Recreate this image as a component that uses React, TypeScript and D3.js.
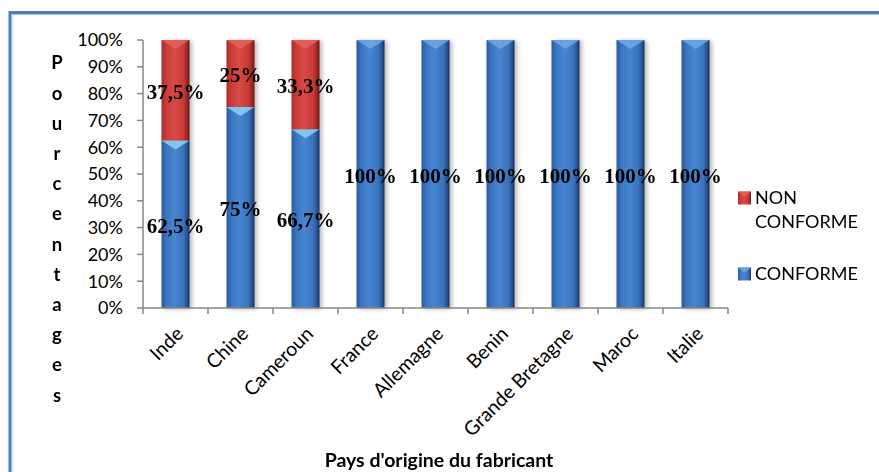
import React from 'react';
import * as d3 from 'd3';

// Countries of origin and the share of compliant / non-compliant products (%)
const categories = ['Inde', 'Chine', 'Cameroun', 'France', 'Allemagne', 'Benin', 'Grande Bretagne', 'Maroc', 'Italie'];
const conforme = [62.5, 75, 66.7, 100, 100, 100, 100, 100, 100];
const nonConforme = [37.5, 25, 33.3, 0, 0, 0, 0, 0, 0];
const yTicks = [0, 10, 20, 30, 40, 50, 60, 70, 80, 90, 100];
const seriesNames = ['CONFORME', 'NON CONFORME'];
const yTitle = 'Pourcentages';
const xTitle = "Pays d'origine du fabricant";

const W = 879;
const H = 472;
const plot = { left: 143, right: 728, top: 40, bottom: 308 };
const SANS = 'Lato, "Open Sans", sans-serif';
const SERIF = '"Liberation Serif", "Times New Roman", serif';

const fmt = (v: number) => `${String(v).replace('.', ',')}%`;

export default function App() {
  const x = d3.scaleBand<string>().domain(categories).range([plot.left, plot.right]).paddingInner(0).paddingOuter(0);
  const y = d3.scaleLinear().domain([0, 100]).range([plot.bottom, plot.top]);
  const barW = 28;

  const rows = categories.map((c, i) => ({ cat: c, CONFORME: conforme[i], 'NON CONFORME': nonConforme[i] }));
  const stacked = d3.stack<any>().keys(seriesNames)(rows);

  const fills: Record<string, { grad: string; top: string }> = {
    CONFORME: { grad: 'url(#gBlue)', top: '#6fa8e6' },
    'NON CONFORME': { grad: 'url(#gRed)', top: '#e4625d' },
  };
  // bevel colour when a blue segment sits under a red one
  const innerBlueTop = '#8fd0f7';

  return (
    <svg width={W} height={H} style={{ position: 'absolute', left: 0, top: 0, background: '#fff' }}>
      <defs>
        <linearGradient id="gBlue" x1="0" x2="1" y1="0" y2="0">
          <stop offset="0%" stopColor="#2b5c9e" />
          <stop offset="18%" stopColor="#3a75c1" />
          <stop offset="45%" stopColor="#4886d2" />
          <stop offset="78%" stopColor="#3a72bb" />
          <stop offset="92%" stopColor="#27528c" />
          <stop offset="100%" stopColor="#132d52" />
        </linearGradient>
        <linearGradient id="gRed" x1="0" x2="1" y1="0" y2="0">
          <stop offset="0%" stopColor="#ad2c28" />
          <stop offset="18%" stopColor="#cb3c37" />
          <stop offset="45%" stopColor="#d84a45" />
          <stop offset="78%" stopColor="#c83a35" />
          <stop offset="92%" stopColor="#9b2622" />
          <stop offset="100%" stopColor="#5c1311" />
        </linearGradient>
        <filter id="shadow" x="-30%" y="-5%" width="170%" height="115%">
          <feDropShadow dx="2.5" dy="1" stdDeviation="2" floodColor="#000" floodOpacity="0.28" />
        </filter>
      </defs>

      {/* chart frame */}
      <rect x={10} y={12.5} width={W + 20} height={H + 20} fill="none" stroke="#4a7ebb" strokeWidth={3} />
      <rect x={12} y={14.5} width={W + 20} height={H + 20} fill="none" stroke="#a9c2e2" strokeWidth={1} />

      {/* y axis */}
      <line x1={plot.left} x2={plot.left} y1={plot.top} y2={plot.bottom} stroke="#868686" strokeWidth={1.5} />
      {yTicks.map((t) => (
        <g key={t}>
          <line x1={plot.left - 6} x2={plot.left} y1={y(t)} y2={y(t)} stroke="#868686" strokeWidth={1.5} />
          <text x={plot.left - 20} y={y(t)} dy="0.35em" textAnchor="end" fontFamily={SANS} fontSize={18} fill="#000">
            {t}%
          </text>
        </g>
      ))}

      {/* bars */}
      <g filter="url(#shadow)">
        {stacked.map((s) =>
          s.map((d, i) => {
            const h = y(d[0]) - y(d[1]);
            if (h <= 0) return null;
            const cx = (x(categories[i]) as number) + x.bandwidth() / 2;
            const x0 = cx - barW / 2;
            const top = y(d[1]);
            const under = s.key === 'CONFORME' && nonConforme[i] > 0;
            return (
              <g key={s.key + i}>
                <rect x={x0} y={top} width={barW} height={h} fill={fills[s.key].grad} />
                <polygon
                  points={`${x0},${top} ${x0 + barW},${top} ${cx},${top + 9}`}
                  fill={under ? innerBlueTop : fills[s.key].top}
                  opacity={0.85}
                />
              </g>
            );
          })
        )}
      </g>

      {/* x axis */}
      <line x1={plot.left} x2={plot.right} y1={plot.bottom} y2={plot.bottom} stroke="#868686" strokeWidth={1.5} />
      {categories.map((c, i) => (
        <line
          key={c}
          x1={plot.left + i * x.step()}
          x2={plot.left + i * x.step()}
          y1={plot.bottom}
          y2={plot.bottom + 6}
          stroke="#868686"
          strokeWidth={1.5}
        />
      ))}
      <line x1={plot.right} x2={plot.right} y1={plot.bottom} y2={plot.bottom + 6} stroke="#868686" strokeWidth={1.5} />
      {categories.map((c) => {
        const ax = (x(c) as number) + x.bandwidth() / 2 + 9;
        const ay = plot.bottom + 27;
        return (
          <text
            key={c}
            x={ax}
            y={ay}
            transform={`rotate(-45 ${ax} ${ay})`}
            textAnchor="end"
            fontFamily={SANS}
            fontSize={19.5}
            fill="#000"
          >
            {c}
          </text>
        );
      })}

      {/* value labels */}
      {stacked.map((s) =>
        s.map((d, i) => {
          const v = s.key === 'CONFORME' ? conforme[i] : nonConforme[i];
          if (!v) return null;
          const cx = (x(categories[i]) as number) + x.bandwidth() / 2;
          const cy = (y(d[0]) + y(d[1])) / 2 + 1.5;
          return (
            <text
              key={'l' + s.key + i}
              x={cx}
              y={cy}
              dy="0.35em"
              textAnchor="middle"
              fontFamily={SERIF}
              fontWeight="bold"
              fontSize={21}
              fill="#000"
            >
              {fmt(v)}
            </text>
          );
        })
      )}

      {/* y title, one letter per line */}
      {yTitle.split('').map((ch, i) => (
        <text
          key={i}
          x={57}
          y={63 + i * 30.2}
          dy="0.35em"
          textAnchor="middle"
          fontFamily={SANS}
          fontWeight="bold"
          fontSize={18.5}
          fill="#000"
        >
          {ch}
        </text>
      ))}

      {/* x title */}
      <text x={439} y={467} textAnchor="middle" fontFamily={SANS} fontWeight="bold" fontSize={19.5} fill="#000">
        {xTitle}
      </text>

      {/* legend */}
      {[
        { key: 'NON CONFORME', lines: ['NON', 'CONFORME'], y: 198 },
        { key: 'CONFORME', lines: ['CONFORME'], y: 274 },
      ].map((l) => (
        <g key={l.key}>
          <rect x={738} y={l.y - 6.5} width={13} height={13} fill={fills[l.key].grad} />
          <polygon
            points={`${738},${l.y - 6.5} ${751},${l.y - 6.5} ${744.5},${l.y - 1}`}
            fill={fills[l.key].top}
            opacity={0.85}
          />
          {l.lines.map((t, j) => (
            <text key={t} x={755} y={l.y + j * 23.5} dy="0.35em" fontFamily={SANS} fontSize={18} fill="#000">
              {t}
            </text>
          ))}
        </g>
      ))}
    </svg>
  );
}
